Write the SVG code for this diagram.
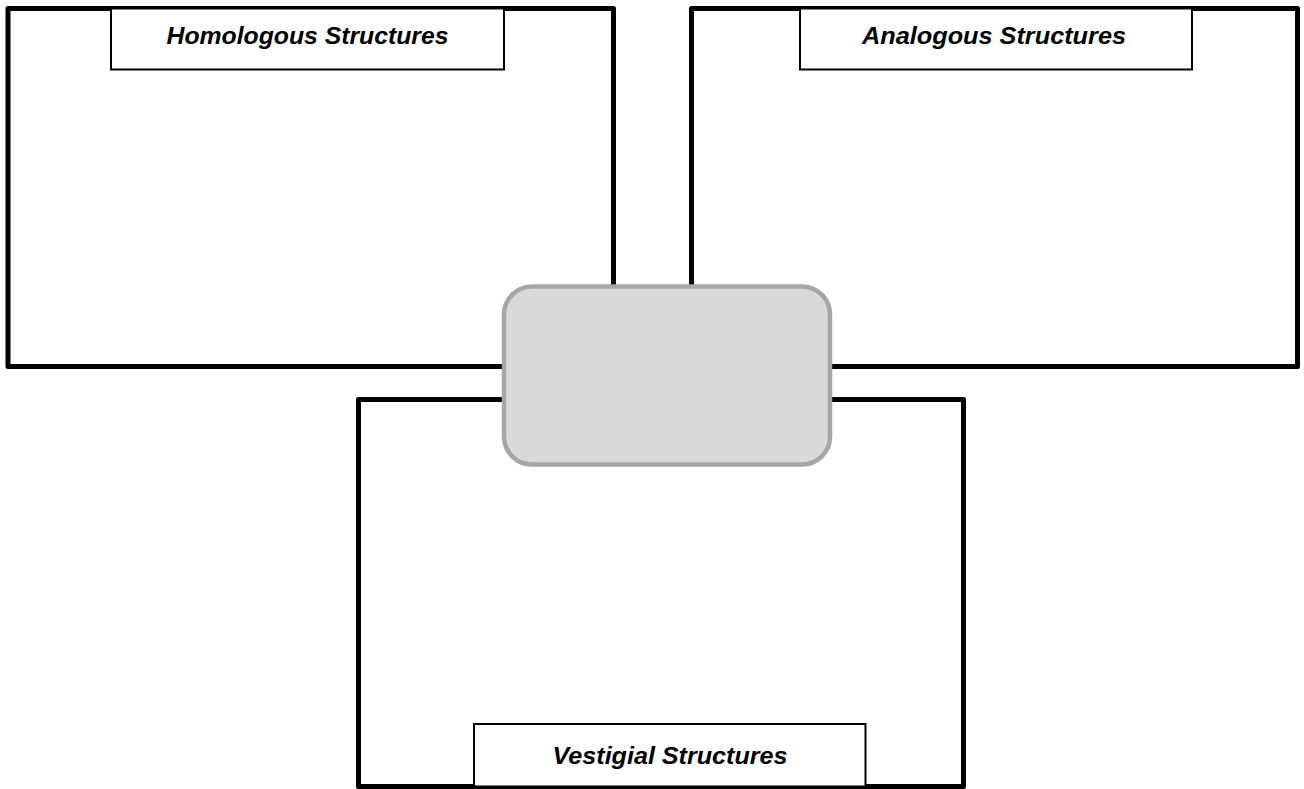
<svg xmlns="http://www.w3.org/2000/svg" width="1304" height="789" viewBox="0 0 1304 789">
<style>
.frame{fill:#fff;stroke:#000;stroke-width:5;stroke-linejoin:round}
.label{fill:#fff;stroke:#000;stroke-width:2}
.txt{font-family:"Liberation Sans",Arial,sans-serif;font-size:24px;font-weight:bold;font-style:italic;fill:#000;text-anchor:middle}
.center{fill:#d9d9d9;stroke:#a6a6a6;stroke-width:4.5}
</style>
<rect width="1304" height="789" fill="#fff"/>
<g id="homologous">
<rect class="frame" x="8" y="8.5" width="605.5" height="358"/>
<rect class="label" x="111" y="8.5" width="393" height="61"/>
<text class="txt" x="307.5" y="44" textLength="282" lengthAdjust="spacingAndGlyphs">Homologous Structures</text>
</g>
<g id="analogous">
<rect class="frame" x="691.5" y="8.5" width="606" height="358"/>
<rect class="label" x="800" y="8.5" width="392" height="61"/>
<text class="txt" x="994" y="44" textLength="264" lengthAdjust="spacingAndGlyphs">Analogous Structures</text>
</g>
<g id="vestigial">
<rect class="frame" x="358.5" y="399.5" width="605" height="387"/>
<rect class="label" x="474" y="724" width="391.5" height="62.5"/>
<text class="txt" x="670" y="764" textLength="235" lengthAdjust="spacingAndGlyphs">Vestigial Structures</text>
</g>
<g id="connectors"></g>
<g id="center">
<rect class="center" x="504" y="286.5" width="326" height="178" rx="28" ry="28"/>
</g>
</svg>
